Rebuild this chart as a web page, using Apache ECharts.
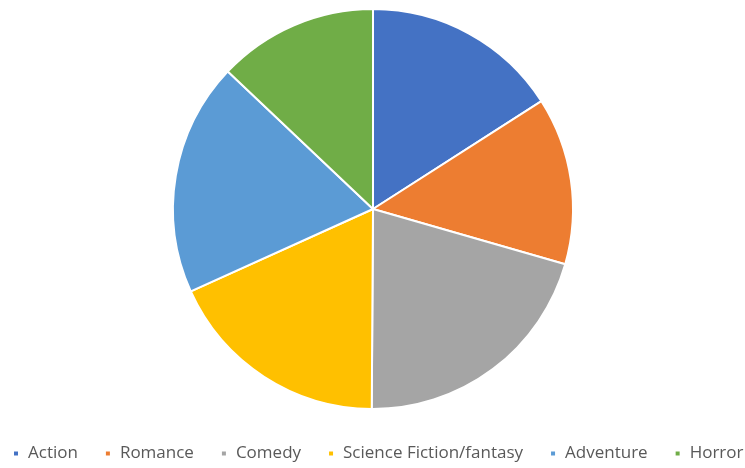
<!DOCTYPE html>
<html>
<head>
<meta charset="utf-8">
<script src="https://cdn.jsdelivr.net/npm/echarts@6/dist/echarts.min.js"></script>
<style>
  html, body { margin: 0; padding: 0; background: #ffffff; }
  #chart { width: 745px; height: 468px; }
</style>
</head>
<body>
<div id="chart"></div>
<script>
// Favourite film genres (share of responses)
const genres = ['Action', 'Romance', 'Comedy', 'Science Fiction/fantasy', 'Adventure', 'Horror'];
const shares = [15.9, 13.5, 20.6, 18.1, 18.8, 12.9];
const colors = ['#4472C4', '#ED7D31', '#A5A5A5', '#FFC000', '#5B9BD5', '#70AD47'];

const chart = echarts.init(document.getElementById('chart'));
chart.setOption({
  animation: false,
  color: colors,
  legend: {
    top: 445,
    left: 12,
    width: 745,
    padding: 0,
    icon: 'rect',
    itemWidth: 6,
    itemHeight: 6,
    itemGap: 26,
    textStyle: {
      color: '#595959',
      fontSize: 17,
      fontFamily: 'Open Sans',
      padding: [0, 0, 0, 4]
    },
    data: genres
  },
  series: [{
    type: 'pie',
    center: [373, 209],
    radius: 200,
    startAngle: 90,
    clockwise: true,
    label: { show: false },
    labelLine: { show: false },
    itemStyle: { borderColor: '#ffffff', borderWidth: 2 },
    data: genres.map((g, i) => ({ name: g, value: shares[i] }))
  }]
});
</script>
</body>
</html>
